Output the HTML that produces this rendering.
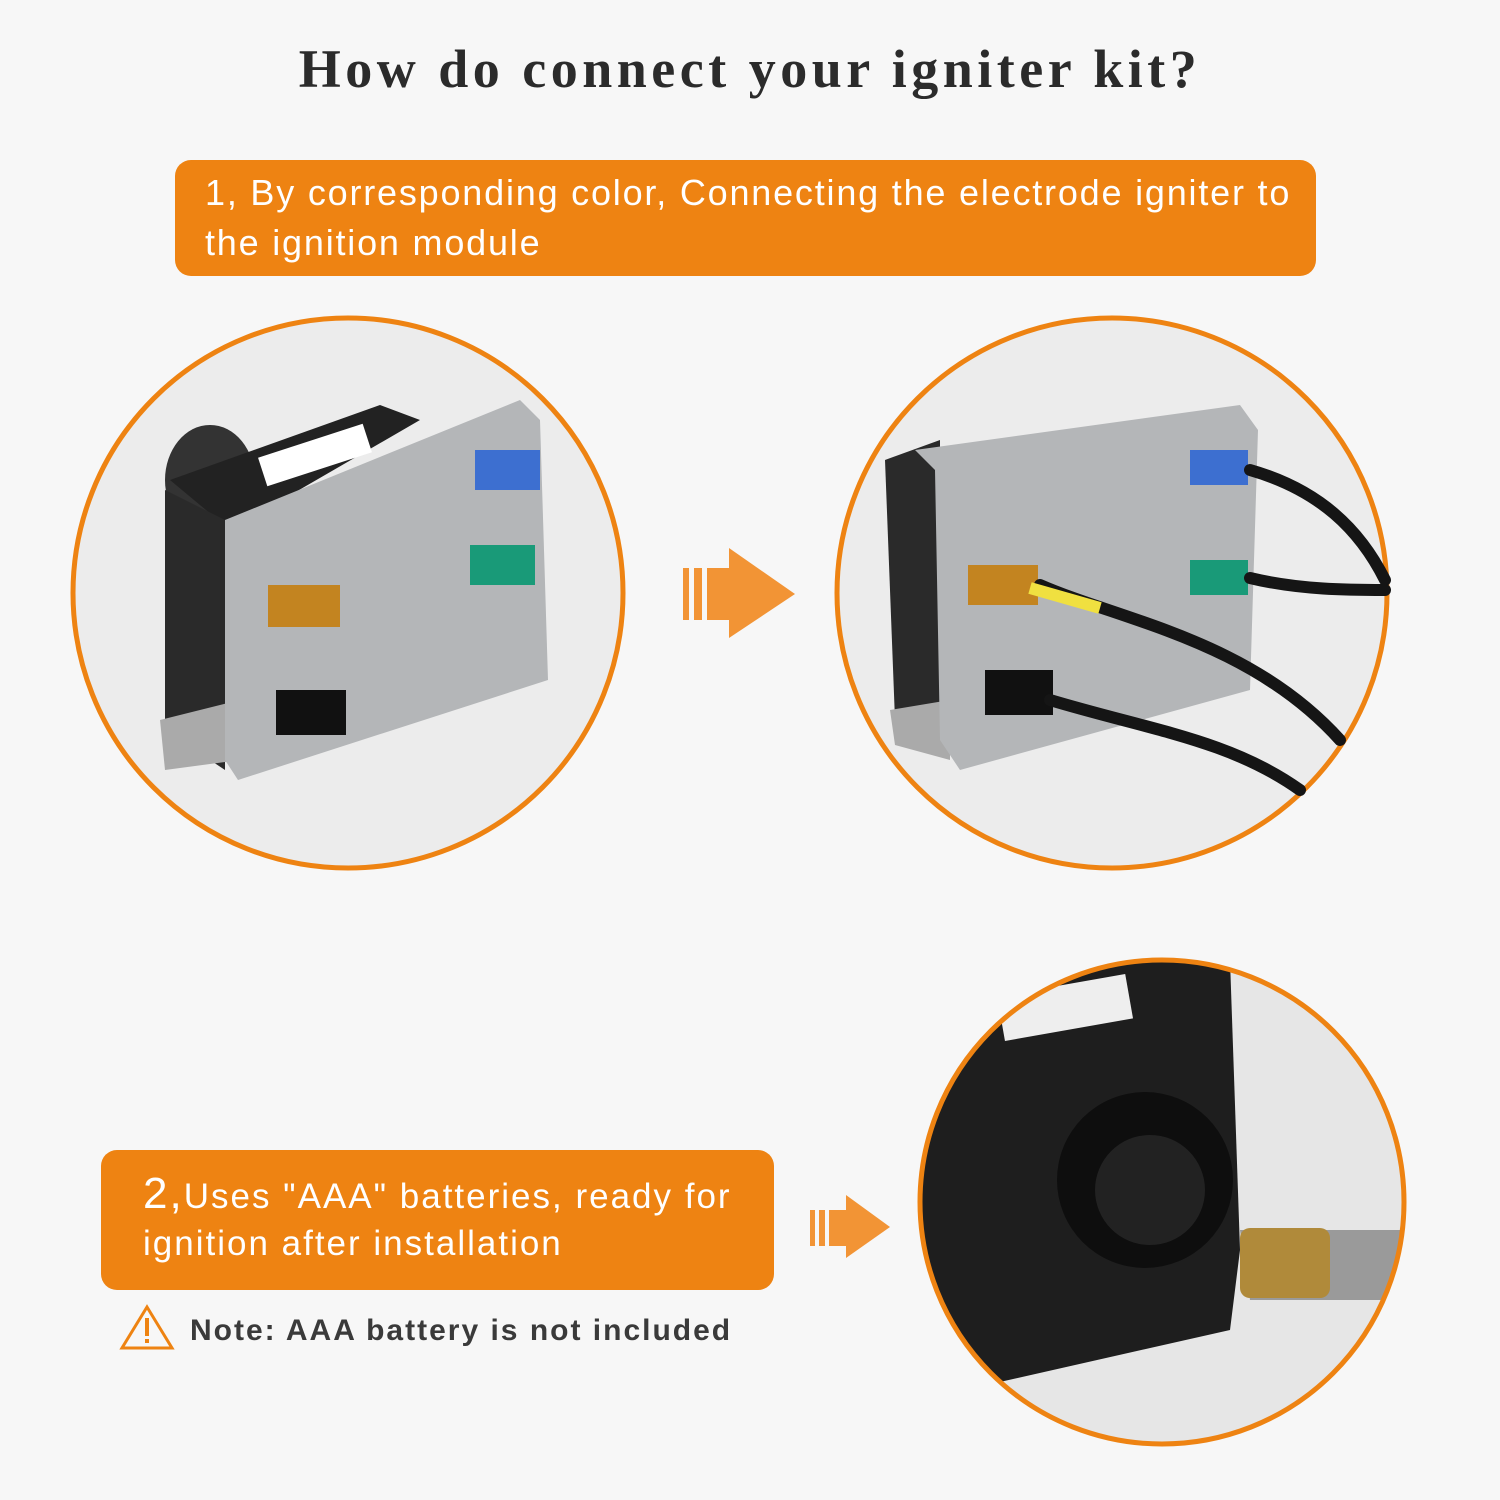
<!DOCTYPE html>
<html><head><meta charset="utf-8"><style>
html,body{margin:0;padding:0;background:#f7f7f7;}
body{width:1500px;height:1500px;position:relative;overflow:hidden;font-family:"Liberation Sans","DejaVu Sans",sans-serif;}
.t{position:absolute;left:0;width:1500px;top:38px;text-align:center;font-family:"Liberation Serif","DejaVu Serif",serif;font-weight:bold;font-size:54px;color:#2b2b2b;letter-spacing:4.5px;}
.box{position:absolute;background:#ee8312;color:#fff;border-radius:16px;box-sizing:border-box;}
.note{position:absolute;left:122px;top:1314px;font-weight:bold;font-size:30px;color:#3a3a3a;letter-spacing:2px;}
</style></head><body>
<div class="t">How do connect your igniter kit?</div>
<div class="box" style="left:175px;top:160px;width:1141px;height:116px;padding:8px 0 0 30px;font-size:36px;line-height:50px;letter-spacing:1.8px;">1, By corresponding color, Connecting the electrode igniter to the ignition module</div>
<div class="box" style="left:101px;top:1150px;width:673px;height:140px;padding:20px 0 0 42px;font-size:35px;line-height:47px;letter-spacing:2px;"><span style="font-size:44px">2,</span>Uses "AAA" batteries, ready for ignition after installation</div>
<svg style="position:absolute;left:0;top:0" width="1500" height="1500">
<circle cx="348" cy="593" r="275" fill="#ececec" stroke="#ee8312" stroke-width="5"/>
<ellipse cx="210" cy="480" rx="45" ry="55" fill="#333"/>
<polygon points="170,480 380,405 420,420 230,530" fill="#222"/>
<polygon points="165,490 225,520 225,770 165,730" fill="#2a2a2a"/>
<polygon points="160,720 240,700 240,760 165,770" fill="#aaa"/>
<polygon points="225,520 520,400 540,420 548,680 238,780 225,760" fill="#b4b6b8"/>
<rect x="475" y="450" width="65" height="40" fill="#3d6fd0"/>
<rect x="470" y="545" width="65" height="40" fill="#199a78"/>
<rect x="268" y="585" width="72" height="42" fill="#c38420"/>
<rect x="276" y="690" width="70" height="45" fill="#111"/>
<rect x="260" y="440" width="110" height="30" fill="#fff" transform="rotate(-18 315 455)"/>
<g fill="#f29435"><rect x="683" y="568" width="6" height="52"/><rect x="694" y="568" width="8" height="52"/><rect x="707" y="568" width="22" height="52"/><polygon points="729,548 795,594 729,638"/></g>
<circle cx="1112" cy="593" r="275" fill="#ececec" stroke="#ee8312" stroke-width="5"/>
<polygon points="885,460 940,440 940,730 895,720" fill="#2a2a2a"/>
<polygon points="890,710 950,700 950,760 895,745" fill="#aaa"/>
<polygon points="915,450 1240,405 1258,430 1250,690 960,770 940,740 935,470" fill="#b4b6b8"/>
<rect x="1190" y="450" width="58" height="35" fill="#3d6fd0"/>
<rect x="1190" y="560" width="58" height="35" fill="#199a78"/>
<rect x="968" y="565" width="70" height="40" fill="#c38420"/>
<rect x="985" y="670" width="68" height="45" fill="#111"/>
<g fill="none" stroke="#151515" stroke-width="12" stroke-linecap="round">
<path d="M1250,470 C1320,490 1360,530 1385,580"/>
<path d="M1250,578 C1300,590 1350,590 1385,590"/>
<path d="M1040,585 C1120,620 1250,640 1340,740"/>
<path d="M1050,700 C1150,730 1230,740 1300,790"/>
</g>
<path d="M1030,588 L1100,608" stroke="#f0e040" stroke-width="12"/>
<g fill="#f29435"><rect x="810" y="1210" width="5" height="36"/><rect x="819" y="1210" width="6" height="36"/><rect x="829" y="1210" width="17" height="36"/><polygon points="846,1195 890,1227 846,1258"/></g>
<clipPath id="c3"><circle cx="1162" cy="1202" r="242"/></clipPath>
<g clip-path="url(#c3)">
<rect x="900" y="950" width="520" height="520" fill="#e6e6e6"/>
<polygon points="920,960 1230,960 1240,1250 1230,1330 920,1400" fill="#1e1e1e"/>
<rect x="1000" y="985" width="130" height="45" fill="#eee" transform="rotate(-10 1065 1007)"/>
<circle cx="1145" cy="1180" r="88" fill="#0e0e0e"/>
<circle cx="1150" cy="1190" r="55" fill="#222"/>
<polygon points="1240,1230 1420,1230 1420,1300 1250,1300" fill="#9a9a9a"/>
<rect x="1240" y="1228" width="90" height="70" rx="10" fill="#b08a3a"/>
</g>
<circle cx="1162" cy="1202" r="242" fill="none" stroke="#ee8312" stroke-width="5"/>
<polygon points="147,1307 172,1348 122,1348" fill="none" stroke="#ee8312" stroke-width="3"/>
<rect x="145" y="1318" width="4" height="18" fill="#ee8312"/><rect x="145" y="1339" width="4" height="4" fill="#ee8312"/>
</svg>
<div class="note" style="left:190px">Note: AAA battery is not included</div>
</body></html>
